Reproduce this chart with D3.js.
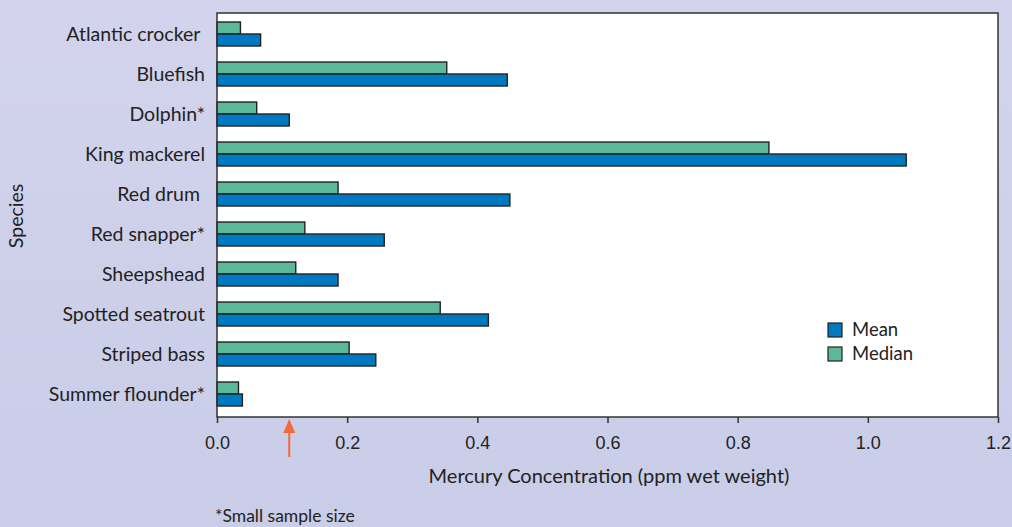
<!DOCTYPE html>
<html>
<head>
<meta charset="utf-8">
<script src="https://cdn.jsdelivr.net/npm/d3@7"></script>
<style>
  html, body { margin: 0; padding: 0; }
  svg { display: block; font-family: Lato, "Open Sans", sans-serif; }
</style>
</head>
<body>
<svg id="chart"></svg>
<script>
const species = ["Atlantic crocker ", "Bluefish", "Dolphin*", "King mackerel", "Red drum ",
                 "Red snapper*", "Sheepshead", "Spotted seatrout", "Striped bass", "Summer flounder*"];
const meanValues   = [0.067, 0.446, 0.111, 1.059, 0.450, 0.257, 0.186, 0.417, 0.244, 0.039];
const medianValues = [0.036, 0.353, 0.061, 0.848, 0.186, 0.135, 0.121, 0.343, 0.203, 0.033];
const xTicks = [0, 0.2, 0.4, 0.6, 0.8, 1.0, 1.2];
const markerValue = 0.111;

const W = 1012, H = 527;
const plot = { left: 217, right: 998, top: 13, bottom: 417 };

const svg = d3.select("#chart").attr("width", W).attr("height", H);

// background
const defs = svg.append("defs");
const grad = defs.append("linearGradient").attr("id", "bg").attr("x1", 0).attr("y1", 0).attr("x2", 0).attr("y2", 1);
grad.append("stop").attr("offset", "0%").attr("stop-color", "#d3d3ed");
grad.append("stop").attr("offset", "100%").attr("stop-color", "#c9cde7");
svg.append("rect").attr("width", W).attr("height", H).attr("fill", "url(#bg)");

const data = species.map((s, i) => ({ species: s, Median: medianValues[i], Mean: meanValues[i] }));

const x = d3.scaleLinear().domain([0, 1.2]).range([plot.left, plot.right]);
const y = d3.scaleBand().domain(species).range([14, 414]).paddingInner(0.4).paddingOuter(0.2);
const ySub = d3.scaleBand().domain(["Median", "Mean"]).range([0, y.bandwidth()]);
const color = { Mean: "#0079c1", Median: "#5cb997" };

svg.append("rect")
    .attr("x", plot.left).attr("y", plot.top)
    .attr("width", plot.right - plot.left).attr("height", plot.bottom - plot.top)
    .attr("fill", "white");

const groups = svg.selectAll(".grp")
    .data(data)
    .enter().append("g")
    .attr("class", "grp")
    .attr("transform", d => `translate(0,${y(d.species)})`);

groups.selectAll("rect")
    .data(d => ["Median", "Mean"].map(k => ({ key: k, value: d[k] })))
    .enter().append("rect")
    .attr("x", x(0))
    .attr("y", d => ySub(d.key))
    .attr("width", d => x(d.value) - x(0))
    .attr("height", ySub.bandwidth())
    .attr("fill", d => color[d.key])
    .attr("stroke", "#222")
    .attr("stroke-width", 1.4);

// plot frame
svg.append("rect")
    .attr("x", plot.left).attr("y", plot.top)
    .attr("width", plot.right - plot.left).attr("height", plot.bottom - plot.top)
    .attr("fill", "none").attr("stroke", "#333").attr("stroke-width", 1.5);

// x axis
const xAxis = svg.append("g")
    .attr("transform", `translate(0,${plot.bottom})`)
    .call(d3.axisBottom(x).tickValues(xTicks).tickFormat(d3.format(".1f")).tickSize(6).tickPadding(13));
xAxis.select(".domain").remove();
xAxis.selectAll("line").attr("stroke", "#333").attr("stroke-width", 1.5);
xAxis.selectAll("text").attr("fill", "#222").style("font-size", "18px");

// species labels
svg.selectAll(".ylab")
    .data(species)
    .enter().append("text")
    .attr("class", "ylab")
    .attr("x", 205)
    .attr("y", d => y(d) + y.bandwidth() / 2)
    .attr("dy", "0.35em")
    .attr("text-anchor", "end")
    .attr("fill", "#222")
    .style("font-size", "19.5px")
    .style("white-space", "pre")
    .text(d => d);

svg.append("text")
    .attr("transform", "translate(23,216) rotate(-90)")
    .attr("text-anchor", "middle")
    .attr("fill", "#222")
    .style("font-size", "19.5px")
    .text("Species");

svg.append("text")
    .attr("x", 609)
    .attr("y", 483)
    .attr("text-anchor", "middle")
    .attr("fill", "#222")
    .style("font-size", "20px")
    .text("Mercury Concentration (ppm wet weight)");

svg.append("text")
    .attr("x", 215)
    .attr("y", 522)
    .attr("fill", "#222")
    .style("font-size", "17.5px")
    .text("*Small sample size");

// arrow marker
const ax = x(markerValue);
svg.append("line")
    .attr("x1", ax).attr("x2", ax).attr("y1", 428).attr("y2", 457)
    .attr("stroke", "#f4683a").attr("stroke-width", 2);
svg.append("path")
    .attr("d", `M${ax - 6},${433} L${ax},${419} L${ax + 6},${433} Z`)
    .attr("fill", "#f4683a");

// legend
const legend = svg.append("g").attr("transform", "translate(828,323)");
["Mean", "Median"].forEach((k, i) => {
    const g = legend.append("g").attr("transform", `translate(0,${i * 24})`);
    g.append("rect").attr("width", 14).attr("height", 14)
        .attr("fill", color[k]).attr("stroke", "#222").attr("stroke-width", 1.2);
    g.append("text").attr("x", 24).attr("y", 7).attr("dy", "0.35em")
        .attr("fill", "#222").style("font-size", "18.5px").text(k);
});
</script>
</body>
</html>
